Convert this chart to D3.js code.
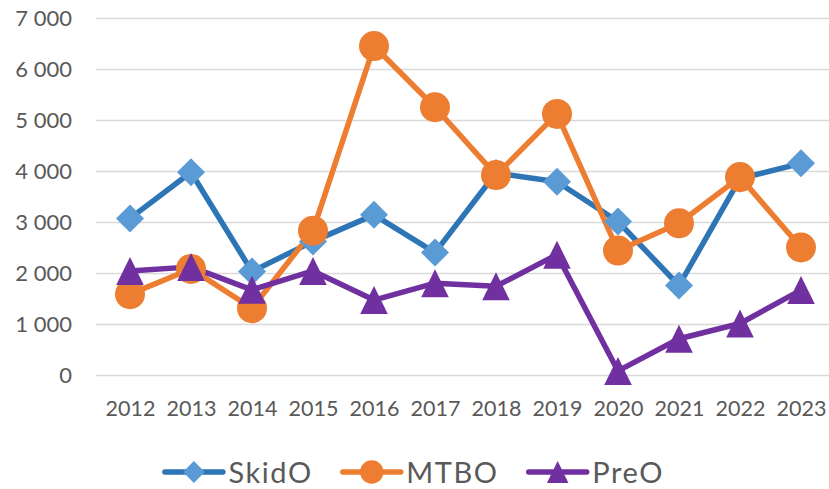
<!DOCTYPE html>
<html>
<head>
<meta charset="utf-8">
<script src="https://cdn.jsdelivr.net/npm/d3@7"></script>
<style>
  html, body { margin: 0; padding: 0; background: #fff; }
  svg { display: block; font-family: Lato, "Open Sans", sans-serif; }
</style>
</head>
<body>
<svg id="chart" width="829" height="489"></svg>
<script>
const years = ["2012","2013","2014","2015","2016","2017","2018","2019","2020","2021","2022","2023"];
const skidO = [3070, 3975, 2030, 2620, 3140, 2400, 3960, 3790, 3010, 1755, 3850, 4150];
const mtbo  = [1585, 2080, 1310, 2830, 6450, 5250, 3920, 5120, 2440, 2975, 3880, 2500];
const preO  = [2040, 2120, 1670, 2040, 1470, 1800, 1740, 2360,   80,  710, 1010, 1665];
const yTicks = [0, 1000, 2000, 3000, 4000, 5000, 6000, 7000];
const seriesNames = ["SkidO", "MTBO", "PreO"];

const W = 829, H = 489;
const svg = d3.select("#chart");

const x = d3.scalePoint().domain(years).range([130, 801]);
const y = d3.scaleLinear().domain([0, 7000]).range([375, 18]);

const fmt = v => d3.format(",")(v).replace(/,/g, " ");

// gridlines + y labels
const yAxis = d3.axisLeft(y).tickValues(yTicks).tickFormat(fmt).tickSize(0).tickPadding(0);
const gY = svg.append("g").attr("transform", "translate(72,0)").call(yAxis);
gY.select(".domain").remove();
gY.selectAll("text")
  .attr("fill", "#595959").attr("font-size", 22).attr("dy", "0.36em")
  .attr("font-family", "Lato, 'Open Sans', sans-serif");

const grid = d3.axisLeft(y).tickValues(yTicks).tickSize(-(829 - 96)).tickFormat("");
const gG = svg.append("g").attr("transform", "translate(96,0)").call(grid);
gG.select(".domain").remove();
gG.selectAll("line").attr("stroke", "#d9d9d9").attr("stroke-width", 1.5);

// x labels
const xAxis = d3.axisBottom(x).tickSize(0).tickPadding(0);
const gX = svg.append("g").attr("transform", "translate(0,416)").call(xAxis);
gX.select(".domain").remove();
gX.selectAll("text")
  .attr("fill", "#595959").attr("font-size", 21.5).attr("dy", 0)
  .attr("font-family", "Lato, 'Open Sans', sans-serif");

function markerPath(kind, s) {
  if (kind === "diamond") { const r = 14 * s; return `M0,${-r}L${r},0L0,${r}L${-r},0Z`; }
  if (kind === "triangle") { return `M0,${-14 * s}L${13.8 * s},${14 * s}L${-13.8 * s},${14 * s}Z`; }
  return null;
}

const series = [
  { name: seriesNames[0], values: skidO, line: "#2e75b6", fill: "#5b9bd5", kind: "diamond" },
  { name: seriesNames[1], values: mtbo,  line: "#ed7d31", fill: "#ed7d31", kind: "circle" },
  { name: seriesNames[2], values: preO,  line: "#7030a0", fill: "#7030a0", kind: "triangle" }
];

const line = d3.line().x((d, i) => x(years[i])).y(d => y(d));

function drawMarker(g, s, cx, cy, scale) {
  if (s.kind === "circle") {
    g.append("circle").attr("cx", cx).attr("cy", cy).attr("r", 15 * scale).attr("fill", s.fill);
  } else {
    g.append("path").attr("d", markerPath(s.kind, scale))
      .attr("transform", `translate(${cx},${cy})`).attr("fill", s.fill);
  }
}

const gLines = svg.append("g");
const gMarks = svg.append("g");
series.forEach(s => {
  gLines.append("path").datum(s.values).attr("d", line)
    .attr("fill", "none").attr("stroke", s.line).attr("stroke-width", 5.5)
    .attr("stroke-linejoin", "round").attr("stroke-linecap", "round");
  s.values.forEach((v, i) => drawMarker(gMarks, s, x(years[i]), y(v), 1));
});

// legend
const legY = 472;
const lineLen = 58, textGap = 5.5, itemGap = 30;
const gL = svg.append("g");
const items = series.map(s => {
  const g = gL.append("g");
  g.append("line").attr("x1", 0).attr("x2", lineLen).attr("y1", legY).attr("y2", legY)
    .attr("stroke", s.line).attr("stroke-width", 5.5).attr("stroke-linecap", "round");
  drawMarker(g, s, lineLen / 2, legY, 0.78);
  const t = g.append("text").attr("x", lineLen + textGap).attr("y", 482.5)
    .attr("fill", "#595959").attr("font-size", 29).attr("letter-spacing", 1.6).text(s.name);
  const w = lineLen + textGap + t.node().getComputedTextLength();
  return { g, w };
});
const total = d3.sum(items, d => d.w) + itemGap * (items.length - 1);
let cx = (W - total) / 2;
items.forEach(it => { it.g.attr("transform", `translate(${cx},0)`); cx += it.w + itemGap; });
</script>
</body>
</html>
